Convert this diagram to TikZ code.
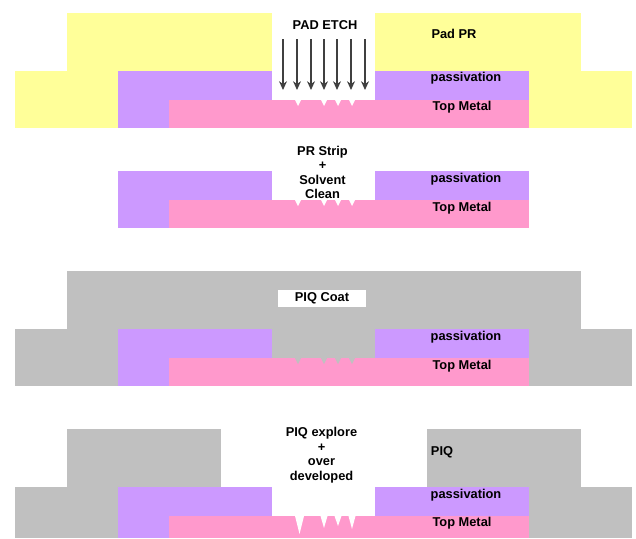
\documentclass[tikz,border=0pt]{standalone}
\usepackage{fontspec}
\setmainfont{Liberation Sans}
\usepackage{xcolor,tikz}
\usetikzlibrary{arrows.meta,positioning}
\definecolor{padpr}{HTML}{FFFF99}
\definecolor{passiv}{HTML}{CC99FF}
\definecolor{topmetal}{HTML}{FF99CC}
\definecolor{piq}{HTML}{C0C0C0}
\newcommand{\padstack}[1]{%
\fill[passiv] (118,#1) rectangle (272,#1+57);
\fill[passiv] (375,#1) rectangle (529,#1+29);
\fill[topmetal] (169,#1+29) rectangle (529,#1+57);}
\begin{document}
\begin{tikzpicture}[x=0.02cm,y=-0.02cm,
lbl/.style={font=\bfseries\fontsize{7.3}{8.3}\selectfont,inner sep=0pt,align=center},
arr/.style={-{Stealth[length=5pt,width=4.5pt]},black!75,semithick}]
\useasboundingbox (0,0) rectangle (636,538);
% etch
\fill[padpr] (67,13) rectangle (272,71);
\fill[padpr] (375,13) rectangle (581,71);
\fill[padpr] (15,71) rectangle (632,128);
\fill[white] (272,71) rectangle (375,100);
\padstack{71}
\foreach \nx in {298,324,338,352}
  \fill[white] (\nx-3,100) -- (\nx+3,100) -- (\nx,106) -- cycle;
\foreach \ax [count=\i] in {283,297,311,324,337,351,365} {
  \coordinate (etchtop\i) at (\ax,39);
  \coordinate (etchend\i) at (\ax,90);
  \draw[arr] (etchtop\i)--(etchend\i);
}
\node[lbl] (etch) at (325,25) {PAD ETCH};
\node[lbl] (padpr) at (454,34) {Pad PR};
\node[lbl] (pass1) at (466,78) {passivation};
\node[lbl] (metal1) at (462,107) {Top Metal};
% strip
\padstack{171}
\foreach \nx in {298,324,338,352}
  \fill[white] (\nx-3,200) -- (\nx+3,200) -- (\nx,206) -- cycle;
\node[lbl] (strip) at (322.5,172.5) {PR Strip\\+\\Solvent\\Clean};
\node[lbl] (pass2) at (466,179) {passivation};
\node[lbl] (metal2) at (462,208) {Top Metal};
% coat
\fill[piq] (67,271) rectangle (581,329);
\fill[piq] (15,329) rectangle (632,386);
\padstack{329}
\foreach \nx in {298,324,338,352}
  \fill[piq] (\nx-3,358) -- (\nx+3,358) -- (\nx,364) -- cycle;
\node[lbl,fill=white,minimum width=1.76cm,minimum height=0.34cm] (coat) at (322,298) {PIQ Coat};
\node[lbl] (pass3) at (466,337) {passivation};
\node[lbl] (metal3) at (462,366) {Top Metal};
% explore
\fill[piq] (67,429) rectangle (221,487);
\fill[piq] (427,429) rectangle (581,487);
\fill[piq] (15,487) rectangle (118,538);
\fill[piq] (529,487) rectangle (632,538);
\fill[passiv] (118,487) rectangle (272,538);
\fill[passiv] (375,487) rectangle (529,516);
\fill[topmetal] (169,516) rectangle (529,538);
\fill[white] (295,516) -- (304,516) -- (299.5,534) -- cycle;
\foreach \nx/\nd in {324/12,338/10,352/13}
  \fill[white] (\nx-3.5,516) -- (\nx+3.5,516) -- (\nx,516+\nd) -- cycle;
\node[lbl] (explore) at (321.5,455) {PIQ explore\\+\\over\\developed};
\node[lbl] (piqlabel) at (442,452) {PIQ};
\node[lbl] (pass4) at (466,495) {passivation};
\node[lbl] (metal4) at (462,523) {Top Metal};
\end{tikzpicture}
\end{document}
